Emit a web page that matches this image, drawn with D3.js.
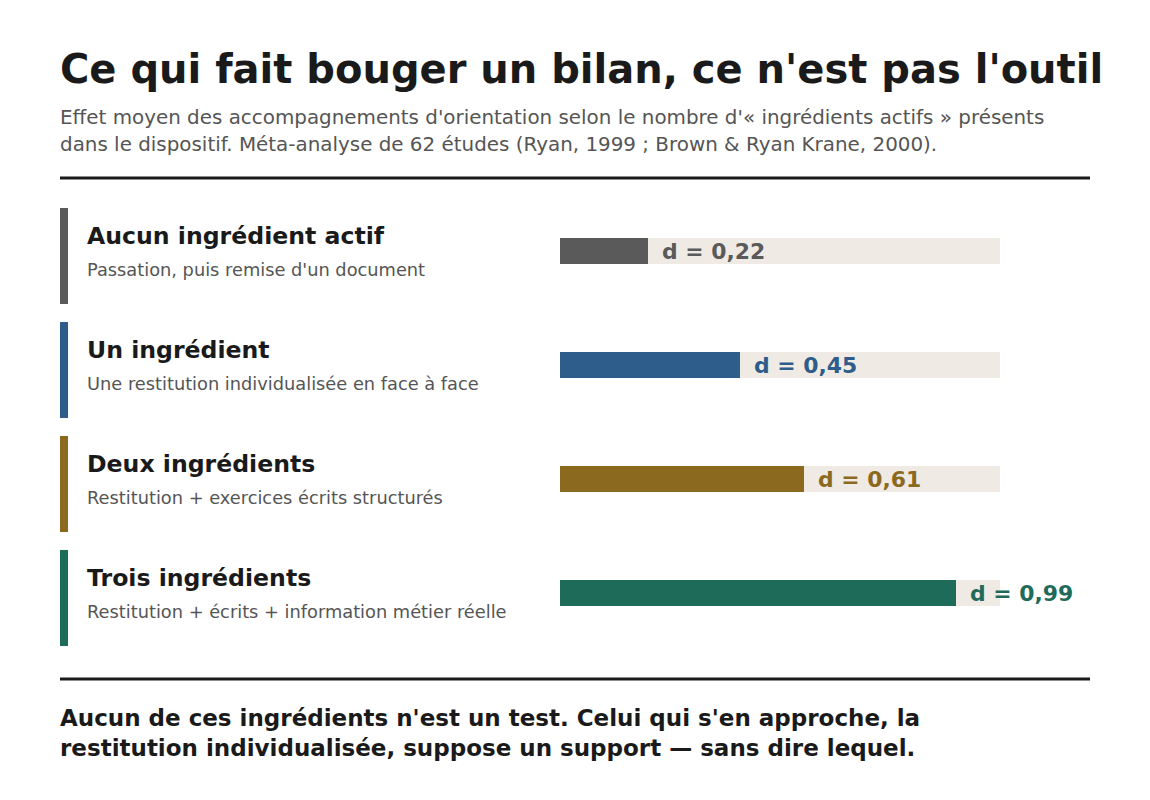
<!DOCTYPE html>
<html lang="fr">
<head>
<meta charset="utf-8">
<script src="https://cdn.jsdelivr.net/npm/d3@7"></script>
<style>
  html, body { margin: 0; padding: 0; background: #ffffff; }
  svg text { font-family: "DejaVu Sans", sans-serif; }
</style>
</head>
<body>
<script>
// Chart data
var categories = ["Aucun ingrédient actif", "Un ingrédient", "Deux ingrédients", "Trois ingrédients"];
var descriptions = [
    "Passation, puis remise d'un document",
    "Une restitution individualisée en face à face",
    "Restitution + exercices écrits structurés",
    "Restitution + écrits + information métier réelle"
];
var effectSizes = [0.22, 0.45, 0.61, 0.99];
var colors = ["#5a5a5a", "#2e5d8c", "#8b6a1f", "#1e6b5a"];

var titleText = "Ce qui fait bouger un bilan, ce n'est pas l'outil";
var subtitleLines = [
    "Effet moyen des accompagnements d'orientation selon le nombre d'« ingrédients actifs » présents",
    "dans le dispositif. Méta-analyse de 62 études (Ryan, 1999 ; Brown & Ryan Krane, 2000)."
];
var footerLines = [
    "Aucun de ces ingrédients n'est un test. Celui qui s'en approche, la",
    "restitution individualisée, suppose un support — sans dire lequel."
];

var width = 1150, height = 800;

var svg = d3.select("body").append("svg")
    .attr("width", width)
    .attr("height", height);

// Title
svg.append("text")
    .attr("x", 60)
    .attr("y", 83)
    .attr("font-size", 40)
    .attr("font-weight", "bold")
    .attr("fill", "#1a1a1a")
    .text(titleText);

// Subtitle
svg.selectAll(".subtitle")
    .data(subtitleLines)
    .enter()
    .append("text")
    .attr("class", "subtitle")
    .attr("x", 60)
    .attr("y", function (d, i) { return 124 + i * 27; })
    .attr("font-size", 19.9)
    .attr("fill", "#555555")
    .text(function (d) { return d; });

// Rules
svg.append("rect").attr("x", 60).attr("y", 176.5).attr("width", 1030).attr("height", 3).attr("fill", "#1a1a1a");
svg.append("rect").attr("x", 60).attr("y", 677.5).attr("width", 1030).attr("height", 3).attr("fill", "#1a1a1a");

// Scales
var y = d3.scaleBand()
    .domain(categories)
    .range([208, 208 + 114 * 4 - 18])
    .paddingInner(18 / 114)
    .paddingOuter(0);

var x = d3.scaleLinear()
    .domain([0, 1.1])
    .range([560, 1000]);

var barH = 26;

var rows = svg.selectAll(".row")
    .data(categories)
    .enter()
    .append("g")
    .attr("class", "row")
    .attr("transform", function (d) { return "translate(0," + y(d) + ")"; });

// left accent
rows.append("rect")
    .attr("x", 60)
    .attr("y", 0)
    .attr("width", 8)
    .attr("height", y.bandwidth())
    .attr("fill", function (d, i) { return colors[i]; });

rows.append("text")
    .attr("x", 87)
    .attr("y", 36)
    .attr("font-size", 23.6)
    .attr("font-weight", "bold")
    .attr("fill", "#1a1a1a")
    .text(function (d) { return d; });

rows.append("text")
    .attr("x", 87)
    .attr("y", 68)
    .attr("font-size", 17.8)
    .attr("fill", "#555555")
    .text(function (d, i) { return descriptions[i]; });

// track
rows.append("rect")
    .attr("x", x(0))
    .attr("y", 30)
    .attr("width", x(1.1) - x(0))
    .attr("height", barH)
    .attr("fill", "#efebe4");

// value bar
rows.append("rect")
    .attr("x", x(0))
    .attr("y", 30)
    .attr("width", function (d, i) { return x(effectSizes[i]) - x(0); })
    .attr("height", barH)
    .attr("fill", function (d, i) { return colors[i]; });

// value label
rows.append("text")
    .attr("x", function (d, i) { return x(effectSizes[i]) + 14; })
    .attr("y", 43)
    .attr("dy", "0.35em")
    .attr("font-size", 21.9)
    .attr("font-weight", "bold")
    .attr("fill", function (d, i) { return colors[i]; })
    .text(function (d, i) { return "d = " + effectSizes[i].toFixed(2).replace(".", ","); });

// Footer
svg.selectAll(".footer")
    .data(footerLines)
    .enter()
    .append("text")
    .attr("class", "footer")
    .attr("x", 60)
    .attr("y", function (d, i) { return 726 + i * 30; })
    .attr("font-size", 23)
    .attr("font-weight", "bold")
    .attr("fill", "#1a1a1a")
    .text(function (d) { return d; });
</script>
</body>
</html>
